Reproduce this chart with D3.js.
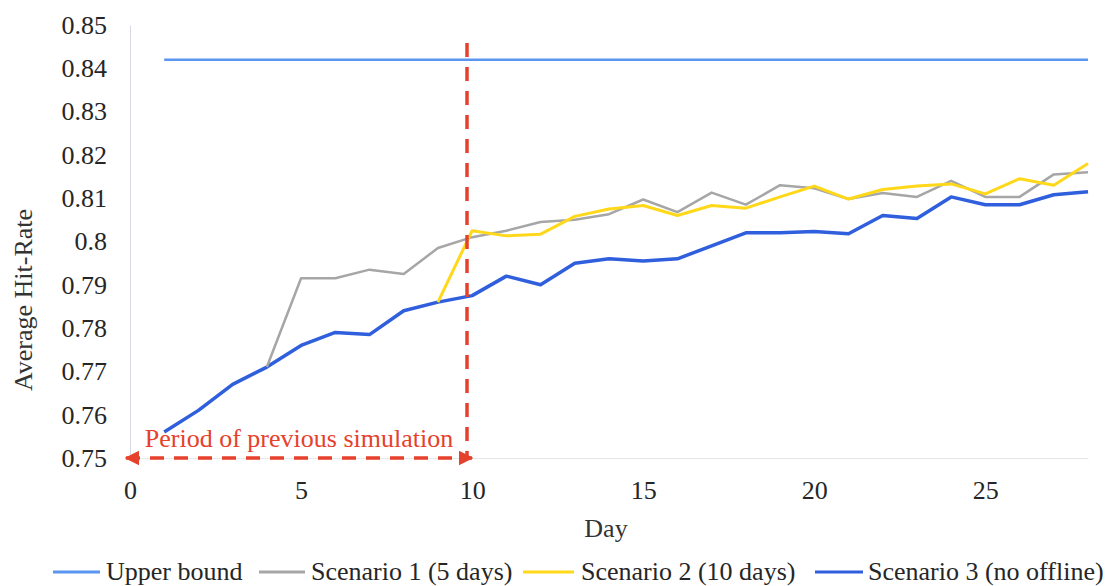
<!DOCTYPE html>
<html>
<head>
<meta charset="utf-8">
<script src="https://cdn.jsdelivr.net/npm/d3@7"></script>
<style>
  html, body { margin: 0; padding: 0; background: #fff; }
  svg { display: block; }
  svg text { font-family: "Liberation Serif", "DejaVu Serif", serif !important; }
</style>
</head>
<body>
<svg id="chart" width="1117" height="586"></svg>
<script>
// Days 1..28
const days = d3.range(1, 29);

// Average hit-rate per day
const upperBound = days.map(() => 0.842);

const scenario1Days = d3.range(4, 29);
const scenario1 = [0.771, 0.7915, 0.7915, 0.7935, 0.7925, 0.7985, 0.801, 0.8025, 0.8045, 0.805,
  0.8063, 0.8097, 0.8068, 0.8113, 0.8085, 0.813, 0.8123, 0.8098, 0.8112, 0.8103,
  0.814, 0.8103, 0.8103, 0.8155, 0.816];

const scenario2Days = d3.range(9, 29);
const scenario2 = [0.786, 0.8025, 0.8013, 0.8017, 0.8058, 0.8075, 0.8083, 0.806, 0.8083, 0.8077,
  0.8103, 0.8128, 0.8098, 0.812, 0.8128, 0.8133, 0.811, 0.8145, 0.813, 0.818];

const scenario3 = [0.756, 0.761, 0.767, 0.771, 0.776, 0.779, 0.7785, 0.784, 0.786, 0.7875,
  0.792, 0.790, 0.795, 0.796, 0.7955, 0.796, 0.799, 0.802, 0.802, 0.8023,
  0.8018, 0.806, 0.8053, 0.8103, 0.8085, 0.8085, 0.8108, 0.8115];

const yTicks = [0.75, 0.76, 0.77, 0.78, 0.79, 0.8, 0.81, 0.82, 0.83, 0.84, 0.85];
const yTickLabels = ["0.75", "0.76", "0.77", "0.78", "0.79", "0.8", "0.81", "0.82", "0.83", "0.84", "0.85"];
const xTicks = [0, 5, 10, 15, 20, 25];

// End of the earlier simulation window
const previousPeriodEnd = 9.85;
const periodLabel = "Period of previous simulation";

const seriesNames = ["Upper bound", "Scenario 1 (5 days)", "Scenario 2 (10 days)", "Scenario 3 (no offline)"];
const seriesColors = ["#5a95f0", "#a6a6a6", "#ffd81a", "#2f5fdc"];
const seriesWidths = [2.5, 2.5, 3, 3.5];

const FONT = "Liberation Serif, DejaVu Serif, serif";
const FS = 26;
const svg = d3.select("#chart");
const x = d3.scaleLinear().domain([0, 28]).range([130, 1088]);
const y = d3.scaleLinear().domain([0.75, 0.85]).range([458, 25]);

// Axes
const yAxis = svg.append("g")
  .attr("transform", `translate(${x(0)},0)`)
  .call(d3.axisLeft(y).tickValues(yTicks).tickSize(0).tickPadding(23)
    .tickFormat((d, i) => yTickLabels[i]));
yAxis.attr("font-family", FONT);
yAxis.select(".domain").attr("stroke", "#d9d9e6").attr("stroke-width", 1);
yAxis.selectAll("text").attr("font-size", FS).attr("fill", "#262626");

const xAxis = svg.append("g")
  .attr("transform", `translate(0,${y(0.75)})`)
  .call(d3.axisBottom(x).tickValues(xTicks).tickSize(0).tickPadding(23).tickFormat(d3.format("d")));
xAxis.attr("font-family", FONT);
xAxis.select(".domain").attr("stroke", "#e6e6e6").attr("stroke-width", 1);
xAxis.selectAll("text").attr("font-size", FS).attr("fill", "#262626");

// Axis titles
svg.append("text")
  .attr("transform", `translate(32,300) rotate(-90)`)
  .attr("text-anchor", "middle")
  .attr("font-size", FS).attr("fill", "#333")
  .text("Average Hit-Rate");
svg.append("text")
  .attr("x", 606).attr("y", 537)
  .attr("text-anchor", "middle")
  .attr("font-size", FS).attr("fill", "#333")
  .text("Day");

// Series lines
const line = d3.line().x(d => x(d[0])).y(d => y(d[1]));
const seriesData = [
  days.map((d, i) => [d, upperBound[i]]),
  scenario1Days.map((d, i) => [d, scenario1[i]]),
  scenario2Days.map((d, i) => [d, scenario2[i]]),
  days.map((d, i) => [d, scenario3[i]])
];
const drawOrder = [0, 3, 1, 2];
drawOrder.forEach(k => {
  svg.append("path")
    .datum(seriesData[k])
    .attr("fill", "none")
    .attr("stroke", seriesColors[k])
    .attr("stroke-width", seriesWidths[k])
    .attr("stroke-linejoin", "round")
    .attr("d", line);
});

// Marker for the previous simulation window
const red = "#e5412c";
svg.append("defs").selectAll("marker")
  .data(["arrowEnd", "arrowStart"])
  .join("marker")
  .attr("id", d => d)
  .attr("viewBox", "0 0 10 10")
  .attr("refX", 9).attr("refY", 5)
  .attr("markerWidth", 4.2).attr("markerHeight", 4.2)
  .attr("orient", d => d === "arrowEnd" ? "auto" : "auto-start-reverse")
  .append("path")
  .attr("d", "M0,0 L10,5 L0,10 Z")
  .attr("fill", red);

svg.append("line")
  .attr("x1", x(previousPeriodEnd)).attr("x2", x(previousPeriodEnd))
  .attr("y1", 43).attr("y2", y(0.75))
  .attr("stroke", red).attr("stroke-width", 3.5)
  .attr("stroke-dasharray", "14,10");

svg.append("line")
  .attr("x1", x(0) - 4).attr("x2", x(previousPeriodEnd) + 5)
  .attr("y1", y(0.75)).attr("y2", y(0.75))
  .attr("stroke", red).attr("stroke-width", 3.5)
  .attr("stroke-dasharray", "14,10")
  .attr("marker-start", "url(#arrowStart)")
  .attr("marker-end", "url(#arrowEnd)");

svg.append("text")
  .attr("x", 299)
  .attr("y", 447)
  .attr("text-anchor", "middle")
  .attr("font-size", FS).attr("fill", red)
  .text(periodLabel);

// Legend
const legendY = 572;
const legendItems = [
  { x0: 53, x1: 100, tx: 106 },
  { x0: 259, x1: 305, tx: 311 },
  { x0: 523, x1: 574, tx: 581 },
  { x0: 815, x1: 863, tx: 868 }
];
legendItems.forEach((it, k) => {
  svg.append("line")
    .attr("x1", it.x0).attr("x2", it.x1)
    .attr("y1", legendY).attr("y2", legendY)
    .attr("stroke", seriesColors[k]).attr("stroke-width", 3);
  svg.append("text")
    .attr("x", it.tx).attr("y", legendY + 8)
    .attr("font-size", FS).attr("fill", "#262626")
    .text(seriesNames[k]);
});
</script>
</body>
</html>
